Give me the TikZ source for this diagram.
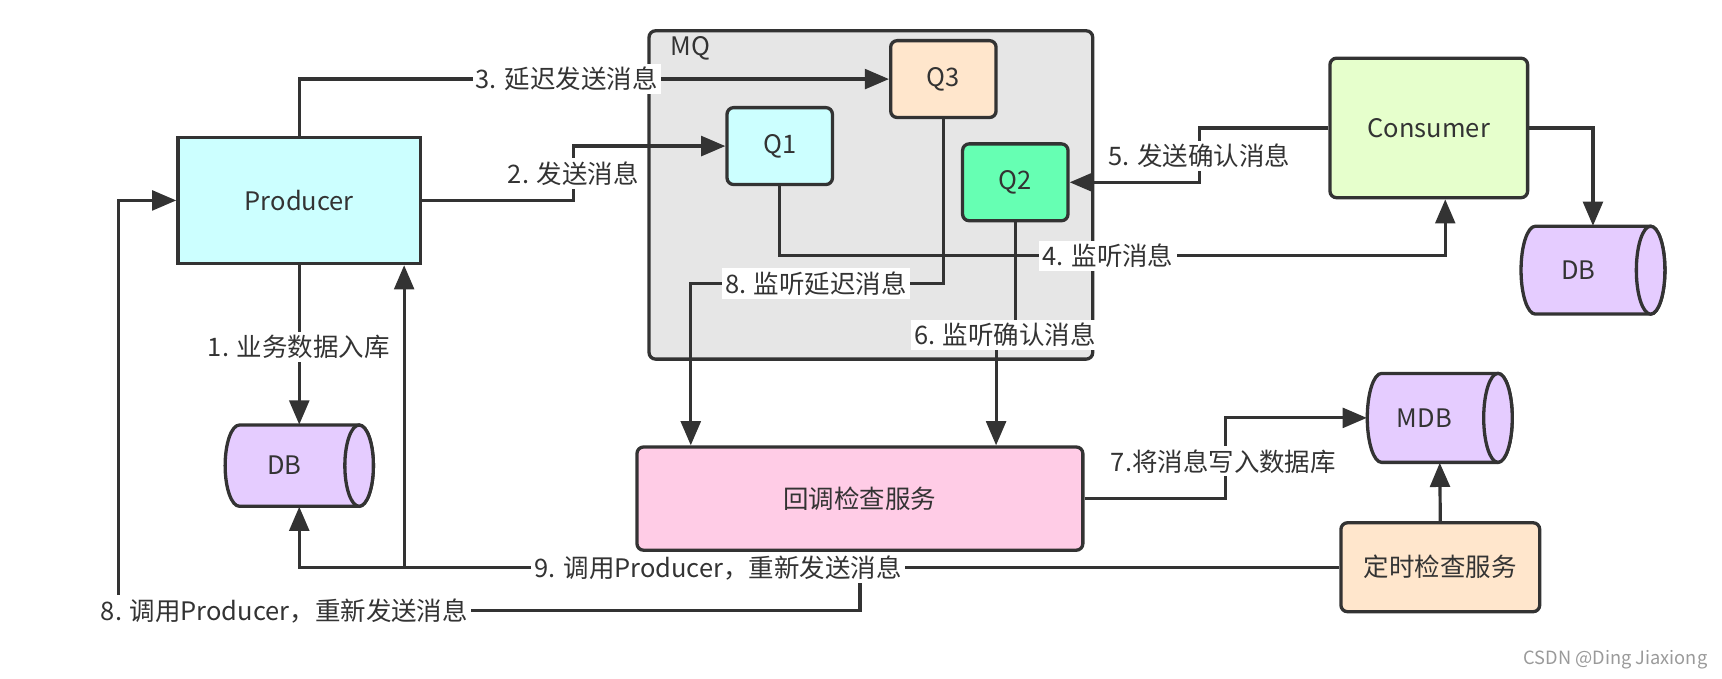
\documentclass[tikz,border=0pt]{standalone}
\usepackage{fontspec}
\setmainfont{Noto Sans CJK SC}
\usetikzlibrary{arrows.meta}
\definecolor{ln}{HTML}{333333}
\definecolor{txt}{HTML}{333333}
\definecolor{cyanf}{HTML}{CCFFFF}
\definecolor{peach}{HTML}{FFE6CC}
\definecolor{greenq}{HTML}{66FFB3}
\definecolor{limef}{HTML}{E6FFCC}
\definecolor{purp}{HTML}{E5CCFF}
\definecolor{pinkf}{HTML}{FFCCE6}
\definecolor{grayf}{HTML}{E6E6E6}
\definecolor{wm}{HTML}{9A9A9A}
\newcommand{\lblfont}{\fontsize{11.6}{14}\selectfont}
\newcommand{\drawcyl}[4]{%
  \filldraw[cylsty] ({#1+13},#3) -- ({#2-13},#3)
    arc[start angle=-90,end angle=90,x radius=13,y radius={(#4-#3)/2}]
    -- ({#1+13},#4)
    arc[start angle=90,end angle=270,x radius=13,y radius={(#4-#3)/2}] -- cycle;
  \filldraw[cylsty] ({#2-13},{(#3+#4)/2}) ellipse [x radius=13, y radius={(#4-#3)/2}];
}
\tikzset{
  box/.style={draw=ln, line width=1.5pt, text=txt, font=\lblfont, inner sep=0pt},
  rbox/.style={box, rounded corners=3pt},
  cylsty/.style={draw=ln, fill=purp, line width=1.5pt},
  lbl/.style={fill=white, text=txt, font=\lblfont, inner sep=1.5pt},
  conn/.style={draw=ln, line width=1.45pt},
  arr/.style={conn, -{Triangle[length=11pt,width=9pt]}},
  ghost/.style={inner sep=0pt, text=txt, font=\lblfont}
}
\begin{document}
\begin{tikzpicture}[x=0.5pt,y=-0.5pt]
\useasboundingbox (0,0) rectangle (1568,618);
\fill[white] (0,0) rectangle (1568,618);

% MQ container
\node[rbox, fill=grayf, minimum width=202pt, minimum height=149.5pt] (mq) at (793,177.5) {};
\node[ghost] (mqlbl) at (629,44) {MQ};

% boxes
\node[box, fill=cyanf, minimum width=110.5pt, minimum height=57.5pt] (prod) at (272.5,182.5) {Producer};
\node[rbox, fill=peach, minimum width=48pt, minimum height=35pt] (q3) at (859,72) {Q3};
\node[rbox, fill=cyanf, minimum width=48pt, minimum height=35pt] (q1) at (710,133) {Q1};
\node[rbox, fill=greenq, minimum width=48pt, minimum height=35pt] (q2) at (924.5,166) {Q2};
\node[rbox, fill=limef, minimum width=90pt, minimum height=63.5pt] (cons) at (1301,116.5) {Consumer};
\node[rbox, fill=pinkf, minimum width=203pt, minimum height=47pt] (cb) at (783,454) {回调检查服务};
\node[rbox, fill=peach, minimum width=90.5pt, minimum height=40.5pt] (ds) at (1311.5,516.5) {定时检查服务};

% cylinders
\drawcyl{205}{340}{387}{461}
\node[minimum width=67.5pt, minimum height=37pt, inner sep=0pt] (db1) at (272.5,424) {};
\node[ghost] (db1t) at (259,424) {DB};
\drawcyl{1385}{1516}{206}{286}
\node[minimum width=65.5pt, minimum height=40pt, inner sep=0pt] (db2) at (1450.5,246) {};
\node[ghost] (db2t) at (1437,246) {DB};
\drawcyl{1245}{1377}{340}{421}
\node[minimum width=66pt, minimum height=40.5pt, inner sep=0pt] (mdb) at (1311,380.5) {};
\node[ghost] (mdbt) at (1297,380.5) {MDB};

% connectors
\draw[arr] (prod.south) -- (db1.north);
\draw[arr] (prod.east) -| (522,150) |- (q1.west);
\draw[arr] (prod.north) |- (q3.west);
\draw[arr] (q1.south) |- (1316,233) -- ([xshift=7.5pt]cons.south);
\draw[arr] (cons.west) -| (1092,140) |- (q2.east);
\draw[arr] (cons.east) -| (db2.north);
\draw[arr] (q3.south) |- (700,258) -| ([xshift=-77pt]cb.north);
\draw[arr] (q2.south) |- (915,305) -| ([xshift=62pt]cb.north);
\draw[arr] (cb.east) -| (1116,400) |- (mdb.west);
\draw[arr] (ds.north) -- (mdb.south);
\draw[arr] (ds.west) -| (db1.south);
\coordinate (j9) at (368,517);
\draw[arr] (j9) -- (j9 |- prod.south);
\draw[arr] (cb.south) |- (108,556) |- (prod.west);

% labels
\node[lbl] (l1) at (272,316) {1. 业务数据入库};
\node[lbl] (l2) at (522,158) {2. 发送消息};
\node[lbl] (l3) at (516,72) {3. 延迟发送消息};
\node[lbl] (l4) at (1009,233) {4. 监听消息};
\node[lbl] (l5) at (1092,142) {5. 发送确认消息};
\node[lbl] (l6) at (915,305) {6. 监听确认消息};
\node[lbl] (l7) at (1114,420) {7.将消息写入数据库};
\node[lbl] (l8a) at (743,258) {8. 监听延迟消息};
\node[lbl] (l9) at (654,517) {9. 调用Producer，重新发送消息};
\node[lbl] (l8b) at (259,556) {8. 调用Producer，重新发送消息};

\node[text=wm, font=\fontsize{8.3}{10}\selectfont, inner sep=0pt] (wmk) at (1471,601) {CSDN @Ding Jiaxiong};
\end{tikzpicture}
\end{document}
